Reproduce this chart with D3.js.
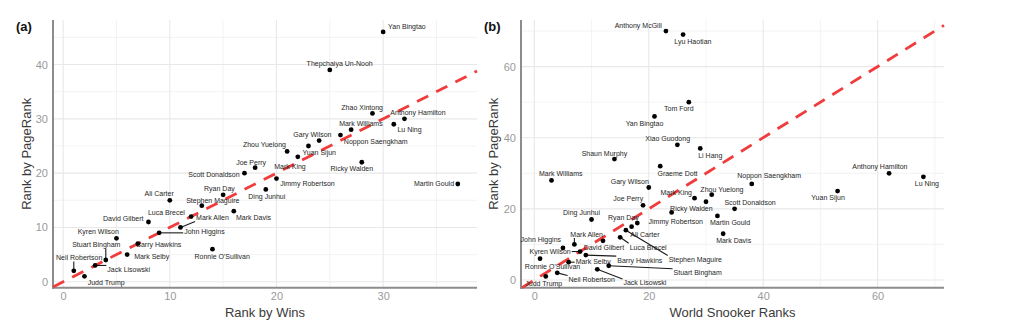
<!DOCTYPE html>
<html><head><meta charset="utf-8">
<script src="https://cdn.jsdelivr.net/npm/d3@7"></script>
<style>
body{margin:0;background:#fff}
svg{display:block}
text{font-family:"Liberation Sans",Arial,sans-serif}
</style>
</head><body>
<svg id="c" width="1024" height="332"></svg>
<script>
// ---------- DATA ----------
// Panel (a): rank by wins vs rank by PageRank
const winsPlayers = ["Yan Bingtao","Thepchaiya Un-Nooh","Zhao Xintong","Anthony Hamilton","Lu Ning","Mark Williams","Noppon Saengkham","Gary Wilson","Yuan Sijun","Zhou Yuelong","Mark King","Ricky Walden","Joe Perry","Scott Donaldson","Jimmy Robertson","Martin Gould","Ding Junhui","Ryan Day","Ali Carter","Stephen Maguire","Mark Davis","Luca Brecel","David Gilbert","Mark Allen","John Higgins","Kyren Wilson","Barry Hawkins","Ronnie O'Sullivan","Mark Selby","Stuart Bingham","Jack Lisowski","Neil Robertson","Judd Trump"];
const winsRank     = [30,25,29,32,31,27,26,24,23,21,22,28,18,17,20,37,19,15,10,13,16,12,8,11,9,5,7,14,6,4,3,1,2];
const winsPageRank = [46,39,31,30,29,28,27,26,25,24,23,22,21,20,19,18,17,16,15,14,13,12,11,10,9,8,7,6,5,4,3,2,1];

// Panel (b): World Snooker rank vs rank by PageRank
const wsrPlayers = ["Anthony McGill","Lyu Haotian","Tom Ford","Yan Bingtao","Xiao Guodong","Li Hang","Shaun Murphy","Graeme Dott","Anthony Hamilton","Lu Ning","Mark Williams","Noppon Saengkham","Gary Wilson","Yuan Sijun","Zhou Yuelong","Mark King","Ricky Walden","Joe Perry","Scott Donaldson","Jimmy Robertson","Martin Gould","Ding Junhui","Ryan Day","Ali Carter","Stephen Maguire","Mark Davis","Luca Brecel","David Gilbert","Mark Allen","John Higgins","Kyren Wilson","Barry Hawkins","Ronnie O'Sullivan","Mark Selby","Stuart Bingham","Jack Lisowski","Neil Robertson","Judd Trump"];
const wsrRank     = [23,26,27,21,25,29,14,22,62,68,3,38,20,53,31,28,30,19,35,24,32,10,18,17,16,33,15,12,7,5,8,9,1,6,13,11,4,2];
const wsrPageRank = [70,69,50,46,38,37,34,32,30,29,28,27,26,25,24,23,22,21,20,19,18,17,16,15,14,13,12,11,10,9,8,7,6,5,4,3,2,1];

// Axis ticks
const ticksAX = [0,10,20,30],   minorAX = [5,15,25,35];
const ticksAY = [0,10,20,30,40], minorAY = [5,15,25,35,45];
const ticksBX = [0,20,40,60],   minorBX = [10,30,50,70];
const ticksBY = [0,20,40,60],   minorBY = [10,30,50,70];

// ---------- LABEL LAYOUT (pixel offsets of label centre from its point; repel-style) ----------
const labelLayoutA = [
 [23.8,-5.3,0],[9.9,-6.7,0],[-10.3,-6,0],[13.5,-6,0],[15.7,5,0],[9.8,-5.7,0],[35.3,6.3,0],[-6.7,-6,0],
 [10.8,7,0],[-22.7,-6.7,0],[-7.8,9.4,0],[-10,6.3,0],[-4,-5.6,0],[-30.5,1.7,0],[31,5,0],[-23.8,0,0],
 [1,7.4,0],[-3.7,-6.4,0],[-10.6,-6.6,0],[11,-5.4,0],[19.7,6.7,0],[-24.7,-3.7,0],[-25.2,-3,0],[32,-10,1],
 [45.3,-1.7,1],[-18.2,-6.6,0],[21,0.6,0],[9.7,7,0],[24.5,2,0],[-9.5,-15.3,1],[33.6,4,1],[5.4,-13.4,1],[21.7,6.4,0]
];
const labelLayoutB = [
 [-27.7,-6,0],[9.8,7,0],[-10,6.6,0],[-10,7.3,0],[-9.7,-6.3,0],[10,7,0],[-10,-6,0],[17.3,7.6,0],
 [-9.2,-6.7,0],[3.5,7,0],[9.3,-6.4,0],[17.4,-8.6,0],[-19,-6,0],[-9.5,6.4,0],[10.2,-5.6,0],[-18.3,-6,0],
 [-14.6,7,0],[-14.8,-6.4,0],[15.5,-6.3,0],[4.1,9,0],[12.6,6.3,0],[-10,-6.7,0],[-13.9,-6,0],[13.3,7.6,0],
 [69.5,29.3,1],[10.5,7,0],[28,10,1],[0.9,6.3,0],[12.3,-10.3,1],[-22.1,-8.3,0],[-30,0,1],[54,5,1],
 [12.5,8,0],[24.5,-1,1],[89,7,1],[47.6,13.6,1],[34.5,6.7,1],[-2,6.7,0]
];

// ---------- DRAW ----------
const svg = d3.select("#c");

function panel(cfg){
  const g = svg.append("g");
  const x = d3.scaleLinear().domain(cfg.xDomain).range([cfg.left, cfg.right]);
  const y = d3.scaleLinear().domain(cfg.yDomain).range([cfg.bottom, cfg.top]);

  // grid
  const grid = g.append("g");
  grid.selectAll(".mx").data(cfg.minorX).join("line")
    .attr("x1",d=>x(d)).attr("x2",d=>x(d)).attr("y1",cfg.top).attr("y2",cfg.bottom)
    .attr("stroke","#f0f0f0").attr("stroke-width",0.8);
  grid.selectAll(".my").data(cfg.minorY).join("line")
    .attr("y1",d=>y(d)).attr("y2",d=>y(d)).attr("x1",cfg.left).attr("x2",cfg.right)
    .attr("stroke","#f0f0f0").attr("stroke-width",0.8);
  grid.selectAll(".Mx").data(cfg.ticksX).join("line")
    .attr("x1",d=>x(d)).attr("x2",d=>x(d)).attr("y1",cfg.top).attr("y2",cfg.bottom)
    .attr("stroke","#e8e8e8").attr("stroke-width",1.1);
  grid.selectAll(".My").data(cfg.ticksY).join("line")
    .attr("y1",d=>y(d)).attr("y2",d=>y(d)).attr("x1",cfg.left).attr("x2",cfg.right)
    .attr("stroke","#e8e8e8").attr("stroke-width",1.1);

  // axes (lines + tick labels via d3 axes)
  const ax = g.append("g").attr("transform",`translate(0,${cfg.bottom})`)
    .call(d3.axisBottom(x).tickValues(cfg.ticksX).tickSize(0).tickPadding(5).tickFormat(d3.format("d")));
  const ay = g.append("g").attr("transform",`translate(${cfg.left},0)`)
    .call(d3.axisLeft(y).tickValues(cfg.ticksY).tickSize(0).tickPadding(5).tickFormat(d3.format("d")));
  [ax,ay].forEach(a=>{
    a.select(".domain").remove();
    a.selectAll("text").attr("fill","#9a9a9a").style("font-size","11px")
      .style("font-family",'"Liberation Sans",Arial,sans-serif');
  });
  g.append("line").attr("x1",cfg.left).attr("x2",cfg.left).attr("y1",cfg.top).attr("y2",cfg.bottom+1)
    .attr("stroke","#8c8c8c").attr("stroke-width",2);
  g.append("line").attr("x1",cfg.left-1).attr("x2",cfg.right).attr("y1",cfg.bottom).attr("y2",cfg.bottom)
    .attr("stroke","#8c8c8c").attr("stroke-width",2);

  // y = x reference line
  const t0 = Math.max(cfg.xDomain[0], cfg.yDomain[0]);
  const t1 = Math.min(cfg.xDomain[1], cfg.yDomain[1]);
  g.append("line").attr("x1",x(t0)).attr("y1",y(t0)).attr("x2",x(t1)).attr("y2",y(t1))
    .attr("stroke","#f03c3c").attr("stroke-width",2.8).attr("stroke-dasharray","12.5,9");

  const pts = cfg.names.map((n,i)=>({name:n, px:x(cfg.xs[i]), py:y(cfg.ys[i]), lay:cfg.layout[i]}));

  // labels
  const lab = g.append("g");
  const segs = g.append("g");
  pts.forEach(p=>{
    const tx = p.px + p.lay[0], ty = p.py + p.lay[1];
    const t = lab.append("text").attr("x",tx).attr("y",ty).attr("text-anchor","middle")
      .attr("dominant-baseline","central").attr("fill","#262626").style("font-size","7px").text(p.name);
    if(p.lay[2]){
      const w = t.node().getComputedTextLength();
      const x0 = tx - w/2 - 1, x1 = tx + w/2 + 1, y0 = ty - 4, y1 = ty + 4;
      const cx = Math.max(x0, Math.min(p.px, x1));
      const cy = Math.max(y0, Math.min(p.py, y1));
      segs.append("line").attr("x1",p.px).attr("y1",p.py).attr("x2",cx).attr("y2",cy)
        .attr("stroke","#1a1a1a").attr("stroke-width",1.1);
    }
  });

  // points
  g.append("g").selectAll("circle").data(pts).join("circle")
    .attr("cx",d=>d.px).attr("cy",d=>d.py).attr("r",2.4).attr("fill","#000");

  // titles
  g.append("text").attr("x",(cfg.left+cfg.right)/2).attr("y",316.5).attr("text-anchor","middle")
    .attr("fill","#3a3a3a").style("font-size","13px").text(cfg.xTitle);
  g.append("text").attr("transform",`translate(${cfg.yTitleX},${(cfg.top+cfg.bottom)/2}) rotate(-90)`)
    .attr("text-anchor","middle").attr("fill","#3a3a3a").style("font-size","13px").text(cfg.yTitle);
  g.append("text").attr("x",cfg.tagX).attr("y",31).attr("fill","#111")
    .style("font-size","13px").style("font-weight","bold").text(cfg.tag);
}

panel({
  names: winsPlayers, xs: winsRank, ys: winsPageRank, layout: labelLayoutA,
  xDomain:[-0.95,38.8], yDomain:[-1.1,48.2],
  left:53, right:477, top:20, bottom:287.7,
  ticksX:ticksAX, ticksY:ticksAY, minorX:minorAX, minorY:minorAY,
  xTitle:"Rank by Wins", yTitle:"Rank by PageRank", yTitleX:31, tag:"(a)", tagX:16
});
panel({
  names: wsrPlayers, xs: wsrRank, ys: wsrPageRank, layout: labelLayoutB,
  xDomain:[-2.33,71.6], yDomain:[-2.17,73.1],
  left:521, right:944, top:20, bottom:287.7,
  ticksX:ticksBX, ticksY:ticksBY, minorX:minorBX, minorY:minorBY,
  xTitle:"World Snooker Ranks", yTitle:"Rank by PageRank", yTitleX:498, tag:"(b)", tagX:484
});
</script>
</body></html>
